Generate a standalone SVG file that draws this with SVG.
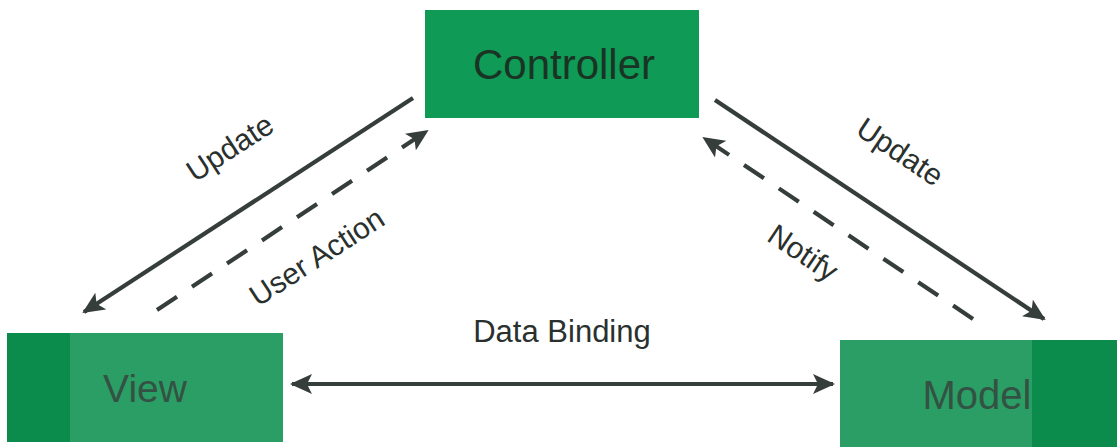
<svg xmlns="http://www.w3.org/2000/svg" width="1117" height="447" viewBox="0 0 1117 447">
  <style>
    .box { fill: #0f9a55; }
    .light { fill: #2b9e65; }
    .dark { fill: #0b8b4c; }
    .node-text { font-family: "Liberation Sans", Arial, sans-serif; text-anchor: middle; }
    .label { font-family: "Liberation Sans", Arial, sans-serif; font-size: 30px; fill: #2a302d; text-anchor: middle; }
    .big { font-size: 31px; }
    .conn { stroke: #353e3a; stroke-width: 4.2; fill: none; }
    .dash { stroke-dasharray: 24 18; }
  </style>
  <defs>
    <marker id="arrow" viewBox="0 0 22 20" refX="20" refY="10" markerWidth="22" markerHeight="20" markerUnits="userSpaceOnUse" orient="auto-start-reverse">
      <path d="M0,0 L22,10 L0,20 L5,10 Z" fill="#353e3a"/>
    </marker>
  </defs>
  <rect width="1117" height="447" fill="#ffffff"/>

  <g id="controller">
    <rect class="box" x="425" y="10" width="274" height="108"/>
    <text class="node-text" x="564" y="79" font-size="42" fill="#1a3325">Controller</text>
  </g>

  <g id="view">
    <rect class="light" x="7" y="333" width="276" height="109"/>
    <rect class="dark" x="7" y="333" width="63" height="109"/>
    <text class="node-text" x="145" y="402" font-size="39" fill="#335244">View</text>
  </g>

  <g id="model">
    <rect class="light" x="840" y="340" width="277" height="107"/>
    <rect class="dark" x="1032" y="340" width="85" height="107"/>
    <text class="node-text" x="977" y="409" font-size="40" fill="#335244">Model</text>
  </g>

  <g id="connectors">
    <line class="conn" x1="413" y1="98" x2="84" y2="312" marker-end="url(#arrow)"/>
    <line class="conn dash" x1="157" y1="310" x2="427" y2="131" marker-end="url(#arrow)"/>
    <line class="conn" x1="715" y1="100" x2="1044" y2="319" marker-end="url(#arrow)"/>
    <line class="conn dash" x1="973" y1="319" x2="704" y2="138" marker-end="url(#arrow)"/>
    <line class="conn" x1="292" y1="384" x2="833" y2="384" marker-start="url(#arrow)" marker-end="url(#arrow)"/>
  </g>

  <g id="labels">
    <text class="label" transform="translate(230,148) rotate(-33)" y="10">Update</text>
    <text class="label" transform="translate(317,257) rotate(-33)" y="10">User Action</text>
    <text class="label" transform="translate(900,152) rotate(33.7)" y="10">Update</text>
    <text class="label" transform="translate(803,253) rotate(33.7)" y="10">Notify</text>
    <text class="label big" x="562" y="342">Data Binding</text>
  </g>
</svg>
